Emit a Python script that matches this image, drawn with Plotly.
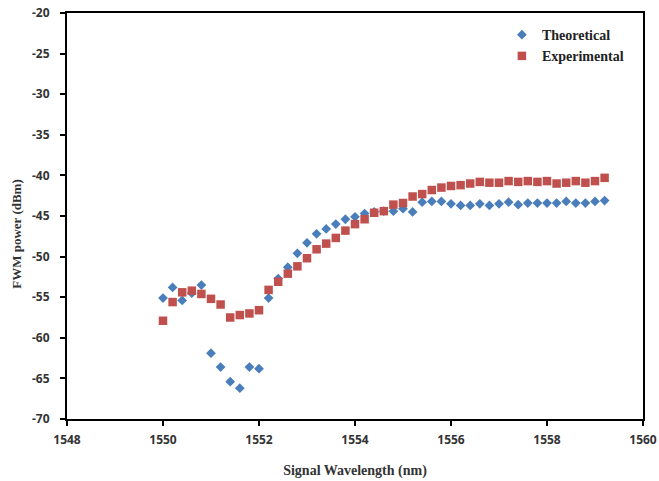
import plotly.graph_objects as go

# Signal wavelength (nm), 0.2 nm steps
wavelength = [1550.0, 1550.2, 1550.4, 1550.6, 1550.8, 1551.0, 1551.2, 1551.4, 1551.6, 1551.8,
              1552.0, 1552.2, 1552.4, 1552.6, 1552.8, 1553.0, 1553.2, 1553.4, 1553.6, 1553.8,
              1554.0, 1554.2, 1554.4, 1554.6, 1554.8, 1555.0, 1555.2, 1555.4, 1555.6, 1555.8,
              1556.0, 1556.2, 1556.4, 1556.6, 1556.8, 1557.0, 1557.2, 1557.4, 1557.6, 1557.8,
              1558.0, 1558.2, 1558.4, 1558.6, 1558.8, 1559.0, 1559.2]

# FWM power (dBm)
theoretical = [-55.1, -53.8, -55.4, -54.5, -53.5, -61.9, -63.6, -65.4, -66.2, -63.6,
               -63.8, -55.1, -52.7, -51.3, -49.6, -48.3, -47.2, -46.6, -46.0, -45.4,
               -45.1, -44.7, -44.5, -44.4, -44.4, -44.1, -44.5, -43.3, -43.2, -43.2,
               -43.5, -43.7, -43.7, -43.5, -43.7, -43.5, -43.3, -43.6, -43.4, -43.4,
               -43.4, -43.4, -43.2, -43.4, -43.4, -43.2, -43.1]

experimental = [-57.9, -55.6, -54.4, -54.2, -54.6, -55.2, -55.9, -57.5, -57.2, -57.0,
                -56.6, -54.1, -53.1, -52.1, -51.2, -50.2, -49.1, -48.4, -47.7, -46.8,
                -46.0, -45.4, -44.6, -44.4, -43.6, -43.4, -42.6, -42.3, -41.8, -41.5,
                -41.3, -41.2, -41.0, -40.8, -40.9, -40.9, -40.7, -40.8, -40.7, -40.8,
                -40.7, -41.0, -40.9, -40.7, -40.9, -40.7, -40.3]

x_ticks = [1548, 1550, 1552, 1554, 1556, 1558, 1560]
y_ticks = [-20, -25, -30, -35, -40, -45, -50, -55, -60, -65, -70]

fig = go.Figure()
fig.add_trace(go.Scatter(
    x=wavelength, y=theoretical, mode="markers", name="Theoretical",
    marker=dict(symbol="diamond", size=7.5, color="#4A7EBB"),
))
fig.add_trace(go.Scatter(
    x=wavelength, y=experimental, mode="markers", name="Experimental",
    marker=dict(symbol="square", size=8.5, color="#C0504D"),
))

tick_font = dict(family="Open Sans", size=12, color="#333333", weight="bold")
title_font = dict(family="Liberation Serif", size=14, color="#333333", weight="bold")

fig.update_layout(
    width=659, height=481,
    margin=dict(l=67, r=16, t=13, b=62, autoexpand=False),
    paper_bgcolor="white", plot_bgcolor="white",
    showlegend=True,
    legend=dict(
        x=0.755, y=0.985, xanchor="left", yanchor="top",
        bgcolor="rgba(0,0,0,0)",
        font=dict(family="Liberation Serif", size=14, color="#222222", weight="bold"),
        itemwidth=30, tracegroupgap=2,
    ),
    xaxis=dict(
        range=[1548, 1560], tickvals=x_ticks, ticktext=[str(v) for v in x_ticks],
        showgrid=False, zeroline=False, automargin=False,
        showline=True, linecolor="black", linewidth=2, mirror=True,
        ticks="outside", ticklen=5, tickcolor="black", tickwidth=1.5,
        tickfont=tick_font, ticklabelstandoff=4,
        title=dict(text="Signal Wavelength (nm)", font=title_font, standoff=18),
    ),
    yaxis=dict(
        range=[-70, -20], tickvals=y_ticks, ticktext=[str(v) for v in y_ticks],
        showgrid=False, zeroline=False, automargin=False,
        showline=True, linecolor="black", linewidth=2, mirror=True,
        ticks="outside", ticklen=5, tickcolor="black", tickwidth=1.5,
        tickfont=tick_font, ticklabelstandoff=8,
    ),
    annotations=[dict(
        text="FWM power (dBm)", textangle=-90, showarrow=False,
        xref="paper", yref="paper", x=-0.087, y=0.456,
        xanchor="center", yanchor="middle",
        font=dict(family="Liberation Serif", size=13, color="#333333", weight="bold"),
    )],
)

fig.write_html("out.html")
